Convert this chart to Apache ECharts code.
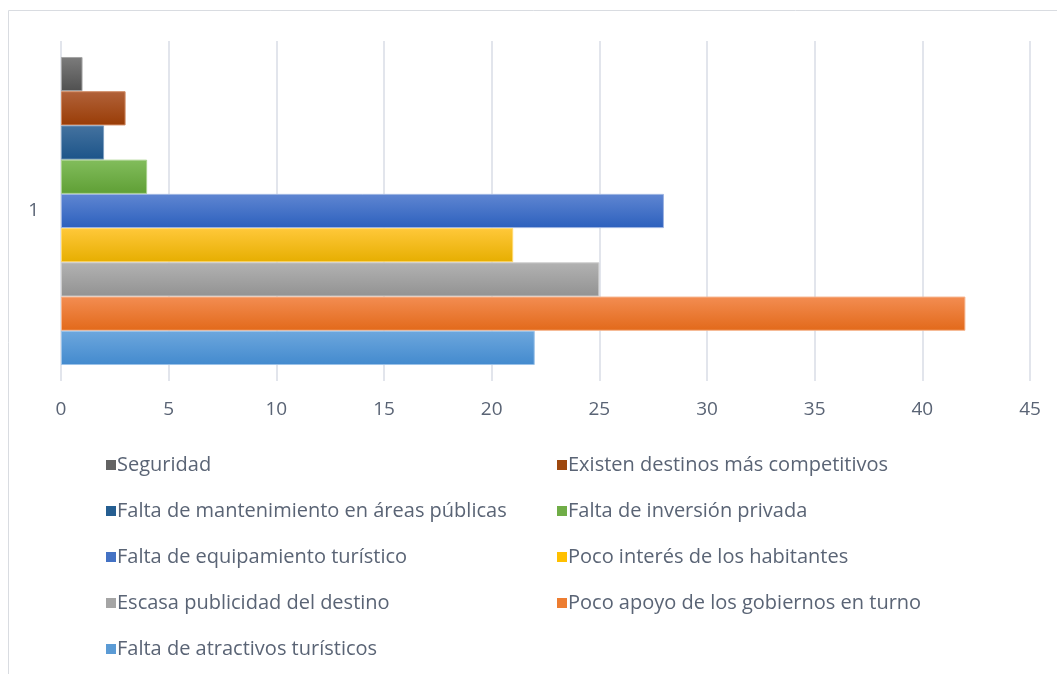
<!DOCTYPE html>
<html lang="es" style="background: #FFFFFF;height: 100%">

<head>
    <meta charset="utf-8" />
    <title>Factores - barras</title>
    <script type="text/javascript" src="https://cdn.jsdelivr.net/npm/echarts@6/dist/echarts.min.js"></script>
</head>

<body style="margin: 0;height: 100%">
    <div id="chart" style="width:1057px;height:674px"></div>
    <script>
    // orden de series como en Excel (la primera queda abajo)
    let categories = ['1']
    let seriesNames = [
        'Falta de atractivos turísticos',
        'Poco apoyo de los gobiernos en turno',
        'Escasa publicidad del destino',
        'Poco interés de los habitantes',
        'Falta de equipamiento turístico',
        'Falta de inversión privada',
        'Falta de mantenimiento en áreas públicas',
        'Existen destinos más competitivos',
        'Seguridad'
    ]
    let seriesValues = [22, 42, 25, 21, 28, 4, 2, 3, 1]
    let xTicks = [0, 5, 10, 15, 20, 25, 30, 35, 40, 45]

    // colores: [arriba, abajo, borde, leyenda]
    let colors = [
        ['#6da7dd', '#438ace', '#9cc3e8', '#5b9bd5'],
        ['#f38d52', '#e2691a', '#f6b48c', '#ed7d31'],
        ['#b2b2b2', '#929292', '#cccccc', '#a5a5a5'],
        ['#ffc83a', '#e6ae00', '#ffd970', '#ffc000'],
        ['#5f86d2', '#2c60bd', '#9bb3e2', '#4472c4'],
        ['#82bd5c', '#5f9f35', '#a9d28d', '#70ad47'],
        ['#44729f', '#1c5489', '#7e9fc0', '#255e91'],
        ['#b1623a', '#993c06', '#d08a63', '#9e480e'],
        ['#7c7c7c', '#505050', '#a5a5a5', '#636363']
    ]

    let legendLeft = ['Seguridad', 'Falta de mantenimiento en áreas públicas', 'Falta de equipamiento turístico',
        'Escasa publicidad del destino', 'Falta de atractivos turísticos']
    let legendRight = ['Existen destinos más competitivos', 'Falta de inversión privada',
        'Poco interés de los habitantes', 'Poco apoyo de los gobiernos en turno']

    let font = 'Open Sans'
    let textColor = '#5a6475'

    let chart = echarts.init(document.getElementById('chart'))

    // echarts pone la primera serie arriba, por eso se recorre al revés
    let series = []
    for (let i = seriesNames.length - 1; i >= 0; i--) {
        series.push({
            name: seriesNames[i],
            type: 'bar',
            data: [seriesValues[i]],
            barGap: '0%',
            barCategoryGap: '9.4%',
            itemStyle: {
                color: new echarts.graphic.LinearGradient(0, 0, 0, 1, [
                    { offset: 0, color: colors[i][0] },
                    { offset: 1, color: colors[i][1] }
                ]),
                borderColor: colors[i][2],
                borderWidth: 1
            }
        })
    }

    function legendItems(names) {
        return names.map(n => {
            let c = colors[seriesNames.indexOf(n)][3]
            return { name: n, itemStyle: { color: c, borderWidth: 0 } }
        })
    }

    let legendStyle = {
        orient: 'vertical',
        top: 455,
        padding: 0,
        itemWidth: 10,
        itemHeight: 10,
        itemGap: 26,
        icon: 'rect',
        textStyle: { fontFamily: font, fontSize: 20, color: textColor, padding: [0, 0, 0, -4] }
    }

    let option = {
        animation: false,
        graphic: [{
            type: 'rect',
            shape: { x: 8.5, y: 10.5, width: 1200, height: 800 },
            style: { fill: 'none', stroke: '#d9dce1', lineWidth: 1 }
        }],
        grid: { left: 61, right: 27, top: 41, bottom: 293 },
        xAxis: {
            type: 'value',
            min: 0,
            max: 45,
            interval: 5,
            axisLine: { show: false },
            axisTick: { show: false },
            splitLine: { lineStyle: { color: '#d9dde6', width: 1.5 } },
            axisLabel: {
                margin: 19,
                fontFamily: font,
                fontSize: 19,
                color: textColor,
                formatter: v => xTicks.includes(v) ? String(v) : ''
            }
        },
        yAxis: {
            type: 'category',
            data: categories,
            axisLine: { show: false },
            axisTick: { show: false },
            axisLabel: { margin: 22, fontFamily: font, fontSize: 19, color: textColor }
        },
        legend: [
            Object.assign({ left: 106, data: legendItems(legendLeft) }, legendStyle),
            Object.assign({ left: 557, data: legendItems(legendRight) }, legendStyle)
        ],
        series: series
    }

    chart.setOption(option)
    </script>
</body>

</html>
